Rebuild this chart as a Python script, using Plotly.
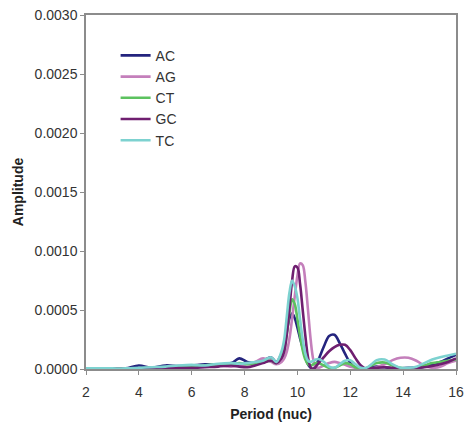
import plotly.graph_objects as go

# Period grid (nucleotides)
period = [2, 2.5, 3, 3.5, 4, 4.5, 5, 5.5, 6, 6.5, 7, 7.5,
          7.8, 8.1, 8.4, 8.7, 9.0, 9.2, 9.4,
          9.5, 9.6, 9.7, 9.8, 9.9, 10.0, 10.1, 10.2, 10.3, 10.4, 10.5, 10.6, 10.7, 10.8,
          11.0, 11.2, 11.4, 11.6, 11.8, 12.0, 12.2, 12.4, 12.6, 12.8, 13.0,
          13.3, 13.6, 13.9, 14.2, 14.5, 14.8, 15.1, 15.4, 15.7, 16.0]

# Amplitudes in units of 1e-4
ac = [0.05, 0.02, 0.05, 0.05, 0.3, 0.1, 0.3, 0.25, 0.3, 0.4, 0.35, 0.5,
      0.9, 0.6, 0.5, 0.7, 1.0, 0.6, 1.3,
      2.0, 3.2, 4.3, 4.7, 4.3, 3.5, 2.6, 1.8, 1.0, 0.4, 0.1, 0.0, 0.3, 0.8,
      1.9, 2.8, 2.9, 2.2, 1.3, 0.5, 0.1, 0.0, 0.05, 0.15, 0.2,
      0.15, 0.05, 0.05, 0.1, 0.1, 0.2, 0.4, 0.6, 0.9, 1.2]
ag = [0.02, 0.02, 0.02, 0.03, 0.05, 0.1, 0.15, 0.2, 0.15, 0.3, 0.3, 0.2,
      0.35, 0.4, 0.6, 0.9, 0.6, 0.4, 0.6,
      0.9, 1.5, 2.6, 4.3, 6.2, 7.9, 8.95, 8.8, 7.4, 5.0, 2.5, 0.8, 0.1, 0.1,
      0.3, 0.5, 0.6, 0.5, 0.35, 0.2, 0.1, 0.05, 0.02, 0.05, 0.15,
      0.4, 0.75, 0.95, 0.95, 0.7, 0.3, 0.1, 0.2, 0.5, 0.7]
ct = [0.02, 0.02, 0.02, 0.02, 0.05, 0.1, 0.15, 0.2, 0.25, 0.3, 0.4, 0.4,
      0.5, 0.4, 0.5, 0.6, 0.7, 0.5, 1.0,
      1.6, 3.0, 4.8, 5.9, 5.5, 4.2, 2.8, 1.6, 0.8, 0.4, 0.3, 0.4, 0.5, 0.5,
      0.3, 0.1, 0.1, 0.3, 0.5, 0.4, 0.15, 0.02, 0.05, 0.3, 0.5,
      0.55, 0.3, 0.1, 0.05, 0.1, 0.3, 0.5, 0.6, 0.7, 0.8]
gc = [0.01, 0.01, 0.01, 0.01, 0.02, 0.05, 0.05, 0.1, 0.1, 0.15, 0.2, 0.3,
      0.2, 0.15, 0.3, 0.5, 0.7, 0.5, 0.9,
      1.5, 3.0, 5.2, 7.5, 8.7, 8.6, 7.2, 5.0, 2.8, 1.0, 0.15, 0.0, 0.2, 0.5,
      1.0, 1.5, 1.85, 2.05, 2.05, 1.6, 0.9, 0.3, 0.02, 0.05, 0.1,
      0.15, 0.1, 0.05, 0.05, 0.1, 0.15, 0.25, 0.4, 0.6, 0.9]
tc = [0.05, 0.05, 0.05, 0.05, 0.1, 0.15, 0.2, 0.3, 0.35, 0.3, 0.45, 0.5,
      0.45, 0.5, 0.6, 0.7, 1.0, 0.6, 1.5,
      2.5, 4.5, 6.5, 7.5, 7.0, 6.0, 4.2, 2.5, 1.3, 0.7, 0.6, 0.7, 0.8, 0.85,
      0.6, 0.2, 0.1, 0.4, 0.7, 0.75, 0.4, 0.1, 0.1, 0.4, 0.75,
      0.8, 0.4, 0.1, 0.1, 0.2, 0.5, 0.8, 1.0, 1.15, 1.3]

names = ["AC", "AG", "CT", "GC", "TC"]
series = [ac, ag, ct, gc, tc]
colors = ["#24247e", "#c47fbb", "#5cc25f", "#6f1f70", "#7dd2d0"]

y_ticks = [0.0, 0.0005, 0.0010, 0.0015, 0.0020, 0.0025, 0.0030]
x_ticks = [2, 4, 6, 8, 10, 12, 14, 16]

font_family = "Liberation Sans, Arial, sans-serif"

fig = go.Figure()
for name, vals, col in zip(names, series, colors):
    fig.add_trace(go.Scatter(
        x=period,
        y=[v * 1e-4 for v in vals],
        mode="lines",
        name=name,
        line=dict(color=col, width=2.6, shape="spline", smoothing=1.0),
    ))

fig.update_layout(
    width=464, height=423,
    margin=dict(l=86, r=8, t=15, b=54),
    paper_bgcolor="white", plot_bgcolor="white",
    font=dict(family=font_family, size=14, color="#333333"),
    showlegend=True,
    legend=dict(x=0.08, y=0.93, xanchor="left", yanchor="top",
                bgcolor="rgba(0,0,0,0)", font=dict(size=14, color="#333333"),
                tracegroupgap=0),
)
fig.update_xaxes(
    range=[2, 16], tickvals=x_ticks, ticktext=[str(t) for t in x_ticks],
    showgrid=False, zeroline=False, automargin=False, ticklabeloverflow="allow",
    showline=True, linecolor="#8c8c8c", linewidth=1.5, mirror=True,
    ticks="outside", ticklen=4, tickcolor="#8c8c8c", ticklabelstandoff=5,
    title=dict(text="<b>Period (nuc)</b>", font=dict(size=14, color="#222222"), standoff=11),
)
fig.update_yaxes(
    range=[0, 0.003], tickvals=y_ticks, tickformat=".4f",
    showgrid=False, zeroline=False, automargin=False,
    showline=True, linecolor="#8c8c8c", linewidth=1.5, mirror=True,
    ticks="outside", ticklen=4, tickcolor="#8c8c8c",
    title=dict(text="<b>Amplitude</b>", font=dict(size=14, color="#222222"), standoff=8),
)

fig.write_html("out.html")
